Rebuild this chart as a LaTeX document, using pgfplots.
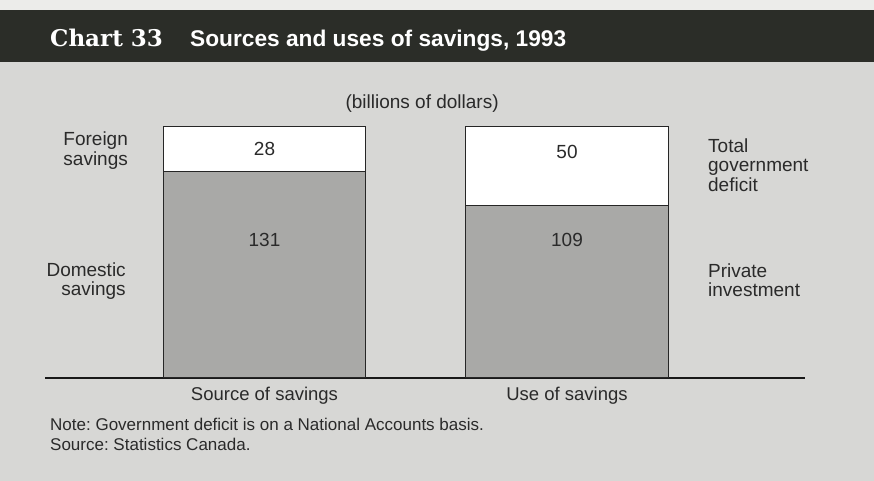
\documentclass[border=0pt]{standalone}
\usepackage{pgfplots}
\pgfplotsset{compat=1.18}
\usepackage{fontspec}
\setmainfont{Liberation Sans}
\newfontfamily\serifbold{DejaVu Serif}
\frenchspacing
\definecolor{bgcol}{HTML}{D7D7D5}
\definecolor{headcol}{HTML}{2B2D28}
\definecolor{topstrip}{HTML}{ECECEA}
\definecolor{barGray}{HTML}{A9A9A7}
\definecolor{txt}{HTML}{2A2A2A}
\newcommand{\lblfont}{\fontsize{19}{19.5}\selectfont}
\newcommand{\tickfont}{\fontsize{18.5}{20}\selectfont}
\tikzset{lbl/.style={text=txt, font=\lblfont}}
\begin{document}
\begin{tikzpicture}[x=1pt,y=1pt]
\fill[bgcol] (0,0) rectangle (874,481);
\fill[topstrip] (0,471) rectangle (874,481);
\fill[headcol] (0,419) rectangle (874,471);
\node[anchor=base west, inner sep=0, text=white] at (50,434) {\serifbold\fontsize{23}{25}\selectfont\bfseries Chart 33};
\node[anchor=base west, inner sep=0, text=white] at (190,434) {\fontsize{22.7}{25}\selectfont\bfseries Sources and uses of savings, 1993};
\begin{axis}[
  at={(45pt,103pt)}, anchor=south west,
  scale only axis, width=760pt, height=251pt,
  xmin=-0.7256, xmax=1.7868, ymin=0, ymax=159,
  clip=false,
  axis x line=bottom, axis y line=none,
  x axis line style={line width=2.6pt, -, black!90},
  xtick={0,1}, xticklabels={Source of savings, Use of savings},
  major tick length=0pt,
  xticklabel style={font=\tickfont, text=txt, yshift=-6pt},
  ytick=\empty,
  ybar stacked, bar width=0.671,
]
\addplot[fill=barGray, draw=black!85, line width=1pt] coordinates {(0,131) (1,109)};
\addplot[fill=white, draw=black!85, line width=1pt] coordinates {(0,28) (1,50)};
\node[lbl] at (axis cs:0.521,173.6) {(billions of dollars)};
\node[lbl, anchor=east, align=right, inner sep=0] at (axis cs:-0.451,144) {Foreign\\savings};
\node[lbl, anchor=east, align=right, inner sep=0] at (axis cs:-0.458,61.4) {Domestic\\savings};
\node[lbl, anchor=west, align=left, inner sep=0] at (axis cs:1.466,135) {Total\\government\\deficit};
\node[lbl, anchor=west, align=left, inner sep=0] at (axis cs:1.466,62) {Private\\investment};
\end{axis}
\node[lbl] at (264.5,332) {28};
\node[lbl] at (264.5,241) {131};
\node[lbl] at (567,329) {50};
\node[lbl] at (567,241) {109};
\node[anchor=west, inner sep=0, text=txt] at (50,57) {\fontsize{17}{18}\selectfont Note: Government deficit is on a National Accounts basis.};
\node[anchor=west, inner sep=0, text=txt] at (50,37) {\fontsize{17}{18}\selectfont Source: Statistics Canada.};
\end{tikzpicture}
\end{document}
